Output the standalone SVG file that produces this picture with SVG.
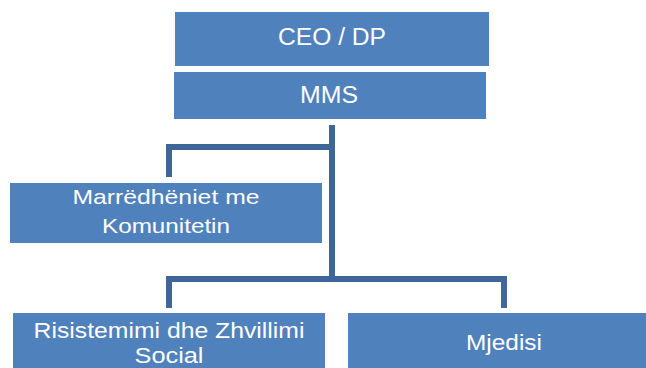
<svg xmlns="http://www.w3.org/2000/svg" width="646" height="368" viewBox="0 0 646 368">
<style>
.box{fill:#4F81BD}
.t{font-family:"Liberation Sans",Arial,sans-serif;fill:#FFFFFF;text-anchor:middle}
.c{fill:none;stroke:#3E6699;stroke-width:6;stroke-linejoin:miter}
</style>
<rect width="646" height="368" fill="#FFFFFF"/>
<g id="connectors">
<path class="c" d="M332,125 V282"/>
<path class="c" d="M169,177 V147 H335"/>
<path class="c" d="M169,308 V279 H504 V308"/>
</g>
<g id="ceo">
<rect class="box" x="175" y="12" width="314" height="54"/>
<text class="t" x="332" y="45" font-size="23" textLength="108" lengthAdjust="spacingAndGlyphs">CEO / DP</text>
</g>
<g id="mms">
<rect class="box" x="174" y="72" width="312" height="47"/>
<text class="t" x="329" y="103" font-size="24" textLength="58" lengthAdjust="spacingAndGlyphs">MMS</text>
</g>
<g id="komuniteti">
<rect class="box" x="10" y="183" width="312" height="60"/>
<text class="t" x="166" y="204" font-size="21" textLength="187" lengthAdjust="spacingAndGlyphs">Marrëdhëniet me</text>
<text class="t" x="166" y="233" font-size="21" textLength="128" lengthAdjust="spacingAndGlyphs">Komunitetin</text>
</g>
<g id="risistemimi">
<rect class="box" x="13" y="313" width="312" height="58"/>
<text class="t" x="169" y="338" font-size="22" textLength="271" lengthAdjust="spacingAndGlyphs">Risistemimi dhe Zhvillimi</text>
<text class="t" x="169" y="363" font-size="22" textLength="69" lengthAdjust="spacingAndGlyphs">Social</text>
</g>
<g id="mjedisi">
<rect class="box" x="348" y="313" width="312" height="58"/>
<text class="t" x="504" y="350" font-size="22" textLength="76" lengthAdjust="spacingAndGlyphs">Mjedisi</text>
</g>
</svg>
